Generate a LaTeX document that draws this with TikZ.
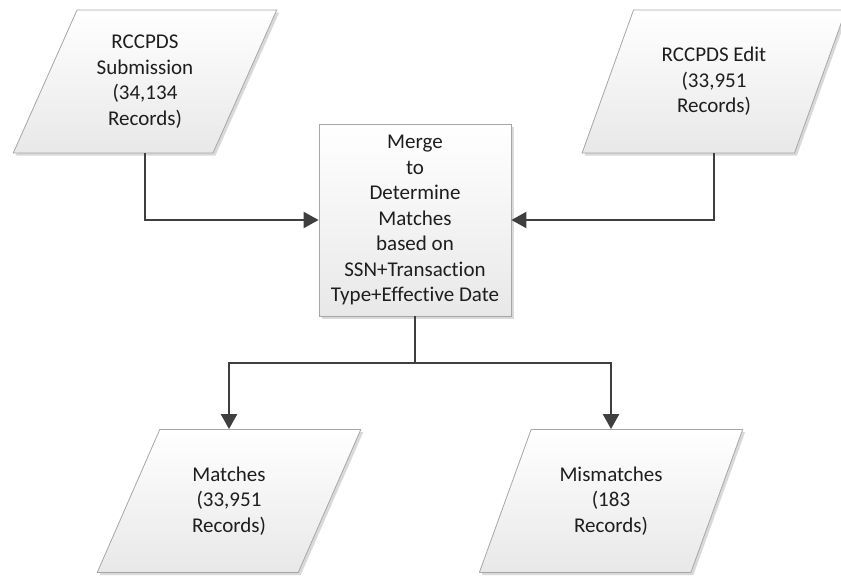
\documentclass[tikz,border=0pt]{standalone}
\usepackage{fontspec}
\setmainfont{Carlito}[RawFeature=-liga]
\usetikzlibrary{shapes.geometric,shadows,arrows.meta}
\definecolor{edgegray}{HTML}{A6A6A6}
\definecolor{linegray}{HTML}{3F3F3F}
\definecolor{txtgray}{HTML}{1E1E1E}
\tikzset{
  base/.style={draw=edgegray, line width=0.8pt, top color=white, bottom color=black!9,
    text=txtgray, align=center, font=\fontsize{21}{25.5}\selectfont,
    drop shadow={shadow xshift=2.5pt, shadow yshift=-2.5pt, opacity=0.25, fill=black!60}},
  datanode/.style={base, trapezium, trapezium left angle=64, trapezium right angle=116,
    trapezium stretches=true, minimum width=264pt, minimum height=143pt, inner sep=0pt},
  procnode/.style={base, rectangle, minimum width=192pt, minimum height=192pt, inner sep=0pt},
  flow/.style={draw=linegray, line width=2.2pt, -{Triangle[length=15pt,width=16pt]}}
}
\begin{document}
\begin{tikzpicture}[x=1pt,y=-1pt]
\useasboundingbox (0,0) rectangle (841,576);

% input data sets
\node[datanode] (sub) at (145,81.5) {RCCPDS\\Submission\\(34,134\\Records)};
\node[datanode] (edit) at (714,81.5) {RCCPDS Edit\\(33,951\\Records)};

% merge step
\node[procnode] (merge) at (415,220) {Merge\\to\\Determine\\Matches\\based on\\SSN+Transaction\\Type+Effective Date};

% results
\node[datanode] (match) at (229,501) {Matches\\(33,951\\Records)};
\node[datanode] (mis) at (611,501) {Mismatches\\(183\\Records)};

\coordinate (split) at (415,363);

% connectors
\draw[flow] (sub.south) |- (merge.west);
\draw[flow] (edit.south) |- (merge.east);
\draw[draw=linegray, line width=2.2pt] (merge.south) -- (split);
\draw[flow] (split) -| (match.north);
\draw[flow] (split) -| (mis.north);
\end{tikzpicture}
\end{document}
